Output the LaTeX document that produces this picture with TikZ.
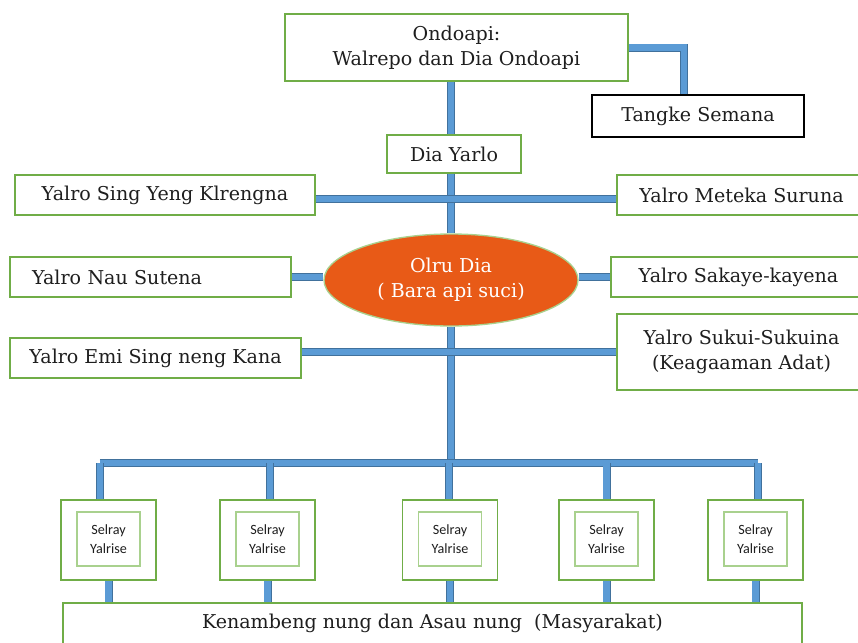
\documentclass[tikz,border=0pt]{standalone}
\usepackage{fontspec}
\setmainfont{DejaVu Serif}
\newfontfamily\calfont{Carlito}
\usepackage{tikz}
\usetikzlibrary{shapes.geometric}

\definecolor{boxgreen}{HTML}{70AD47}
\definecolor{lightgreen}{HTML}{A9D18E}
\definecolor{barfill}{HTML}{5B9BD5}
\definecolor{baredge}{HTML}{41719C}
\definecolor{fire}{HTML}{E85A17}
\definecolor{ink}{HTML}{1E1E1E}

\begin{document}
\begin{tikzpicture}[x=0.75pt, y=-0.75pt,
    txt/.style={font=\fontsize{14.3}{19}\selectfont, text=ink, align=center},
    gbox/.style={txt, draw=boxgreen, line width=1.2pt, fill=white, inner sep=0pt},
    kbox/.style={txt, draw=black, line width=1.2pt, fill=white, inner sep=0pt},
    obox/.style={draw=boxgreen, line width=1.2pt, fill=white,
                 minimum width=71.25pt, minimum height=60pt},
    ibox/.style={draw=lightgreen, line width=1pt, fill=white, align=center,
                 font=\calfont\fontsize{10.6}{14}\selectfont, text=ink,
                 minimum width=47.25pt, minimum height=40.5pt, inner sep=0pt},
    bar/.style={draw=baredge, line width=0.7pt, double=barfill, double distance=4.6pt}]

  \useasboundingbox (0,0) rectangle (858,643);

  % top of the tree
  \node[gbox, minimum width=257.25pt, minimum height=50.25pt] (ondo) at (456.5,47.5)
    {Ondoapi:\\Walrepo dan Dia Ondoapi};
  \node[kbox, minimum width=159pt, minimum height=31.5pt] (tangke) at (698,116)
    {Tangke Semana};
  \node[gbox, minimum width=100.5pt, minimum height=28.5pt] (yarlo) at (454,154)
    {Dia Yarlo};

  % the yalro on both sides
  \node[gbox, minimum width=225pt, minimum height=30pt] (sing) at (165,195)
    {Yalro Sing Yeng Klrengna};
  \node[gbox, minimum width=186.75pt, minimum height=30pt] (meteka) at (741.5,195)
    {Yalro Meteka Suruna};
  \node[gbox, minimum height=30pt, text width=177.75pt, inner xsep=16.5pt, align=left] (nau) at (150.5,277)
    {Yalro Nau Sutena};
  \node[gbox, minimum width=191.25pt, minimum height=30pt] (sakaye) at (738.5,277)
    {Yalro Sakaye-kayena};
  \node[gbox, minimum width=218.25pt, minimum height=30pt] (emi) at (155.5,358)
    {Yalro Emi Sing neng Kana};
  \node[gbox, minimum width=186.75pt, minimum height=57pt] (sukui) at (741.5,352)
    {Yalro Sukui-Sukuina\\(Keagaaman Adat)};

  % fire in the middle
  \node[ellipse, txt, draw=lightgreen, line width=1pt, fill=fire, text=white,
        minimum width=190.5pt, minimum height=69pt, inner sep=0pt] (api) at (451,280)
    {Olru Dia\\( Bara api suci)};

  % selray row and the people
  \foreach \n/\x in {1/108.5, 2/267.5, 3/450, 4/606.5, 5/755.5} {
    \node[obox] (s\n) at (\x,540) {};
    \node[ibox] (si\n) at (\x,539) {Selray\\Yalrise};
  }
  \node[gbox, anchor=north, minimum width=554.25pt, inner ysep=0pt,
        text height=19.5pt, text depth=40pt] (rakyat) at (432.5,602)
    {Kenambeng nung dan Asau nung~~(Masyarakat)};

  % connectors
  \coordinate (bus) at (451,463);
  \draw[bar] (ondo.east) -| ([xshift=-10.5pt]tangke.north);
  \draw[bar] (ondo.south -| api.north) -- (yarlo.north -| api.north);
  \draw[bar] (yarlo.south -| api.north) -- (api.north);
  \draw[bar] (api.south) -- (bus);
  \draw[bar] ([yshift=-3pt]sing.east) -- ([yshift=-3pt]meteka.west);
  \draw[bar] (nau.east) -- (api.west |- nau.east);
  \draw[bar] (api.east |- sakaye.west) -- (sakaye.west);
  \draw[bar] (sukui.west -| emi.east) -- (sukui.west);
  \draw[bar] ([xshift=-6.5pt]s1.north |- bus) -- ([xshift=2pt]s5.north |- bus);
  \foreach \n/\dx in {1/-6.5, 2/2, 3/-1, 4/0, 5/2} {
    \draw[bar] ([xshift=\dx pt]s\n.north |- bus) -- ([xshift=\dx pt]s\n.north);
    \draw[bar] (s\n.south) -- (s\n.south |- rakyat.north);
  }

\end{tikzpicture}
\end{document}
